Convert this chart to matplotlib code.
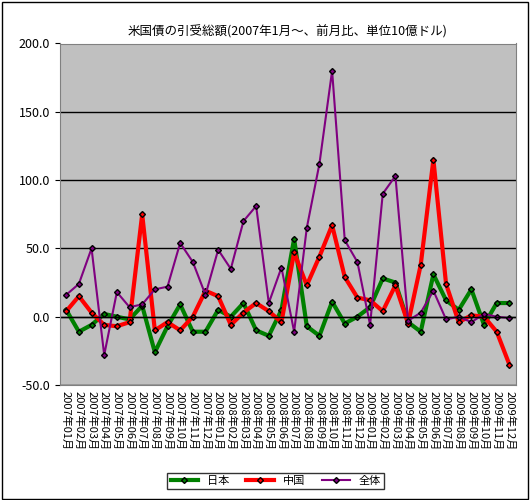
import matplotlib.pyplot as plt
from matplotlib.patches import Rectangle

plt.rcParams['font.family'] = ['Noto Sans CJK JP', 'DejaVu Sans']

months = [f'{y}年{m:02d}月' for y in (2007, 2008, 2009) for m in range(1, 13)]

japan = [5, -11, -6, 2, 0, -2, 8, -26, -7, 9, -11, -11, 5, 0, 10, -10, -14, 5,
         57, -7, -14, 11, -5, 0, 7, 28, 25, -4, -11, 31, 12, 5, 20, -6, 10, 10]
china = [4, 15, 3, -6, -7, -4, 75, -10, -4, -10, 0, 19, 15, -6, 3, 10, 4, -4,
         47, 23, 44, 67, 29, 14, 12, 4, 23, -5, 38, 115, 24, -4, 1, 0, -11, -35]
total = [16, 24, 50, -28, 18, 7, 9, 20, 22, 54, 40, 16, 49, 35, 70, 81, 10, 36,
         -11, 65, 112, 180, 56, 40, -6, 90, 103, -3, 3, 19, -2, 0, -4, 2, 0, -1]

fig = plt.figure(figsize=(5.3, 5.0), dpi=100)
fig.patches.append(Rectangle((0.003, 0.003), 0.994, 0.994, transform=fig.transFigure,
                             fill=False, edgecolor='black', linewidth=1))
ax = fig.add_axes([0.113, 0.23, 0.86, 0.683])
ax.set_facecolor('#C0C0C0')

x = list(range(len(months)))
ax.plot(x, japan, color='#008000', linewidth=3, marker='D', markersize=3,
        markerfacecolor='#008000', markeredgecolor='black', label='日本')
ax.plot(x, china, color='#FF0000', linewidth=3, marker='D', markersize=3,
        markerfacecolor='#FF0000', markeredgecolor='black', label='中国')
ax.plot(x, total, color='#800080', linewidth=1.5, marker='D', markersize=3,
        markerfacecolor='#800080', markeredgecolor='black', label='全体')

ax.set_xlim(-0.5, len(months) - 0.5)
ax.set_ylim(-50, 200)
ax.set_yticks(range(-50, 201, 50))
ax.set_yticklabels([f'{v:.1f}' for v in range(-50, 201, 50)], fontsize=9)
ax.yaxis.grid(True, color='black', linewidth=1)
ax.set_axisbelow(True)
ax.axhline(0, color='black', linewidth=1)
ax.set_xticks(x)
ax.set_xticklabels(months, rotation=270, fontsize=8)
ax.tick_params(axis='x', length=0, pad=4)
for s in ax.spines.values():
    s.set_color('#808080')

ax.set_title('米国債の引受総額(2007年1月～、前月比、単位10億ドル)', fontsize=9, pad=6)

fig.legend(loc='lower center', bbox_to_anchor=(0.52, 0.01), ncol=3, fontsize=8,
           frameon=True, fancybox=False, edgecolor='black', handlelength=2.5,
           borderpad=0.3, columnspacing=1.5)

fig.savefig('out.png', dpi=100)
